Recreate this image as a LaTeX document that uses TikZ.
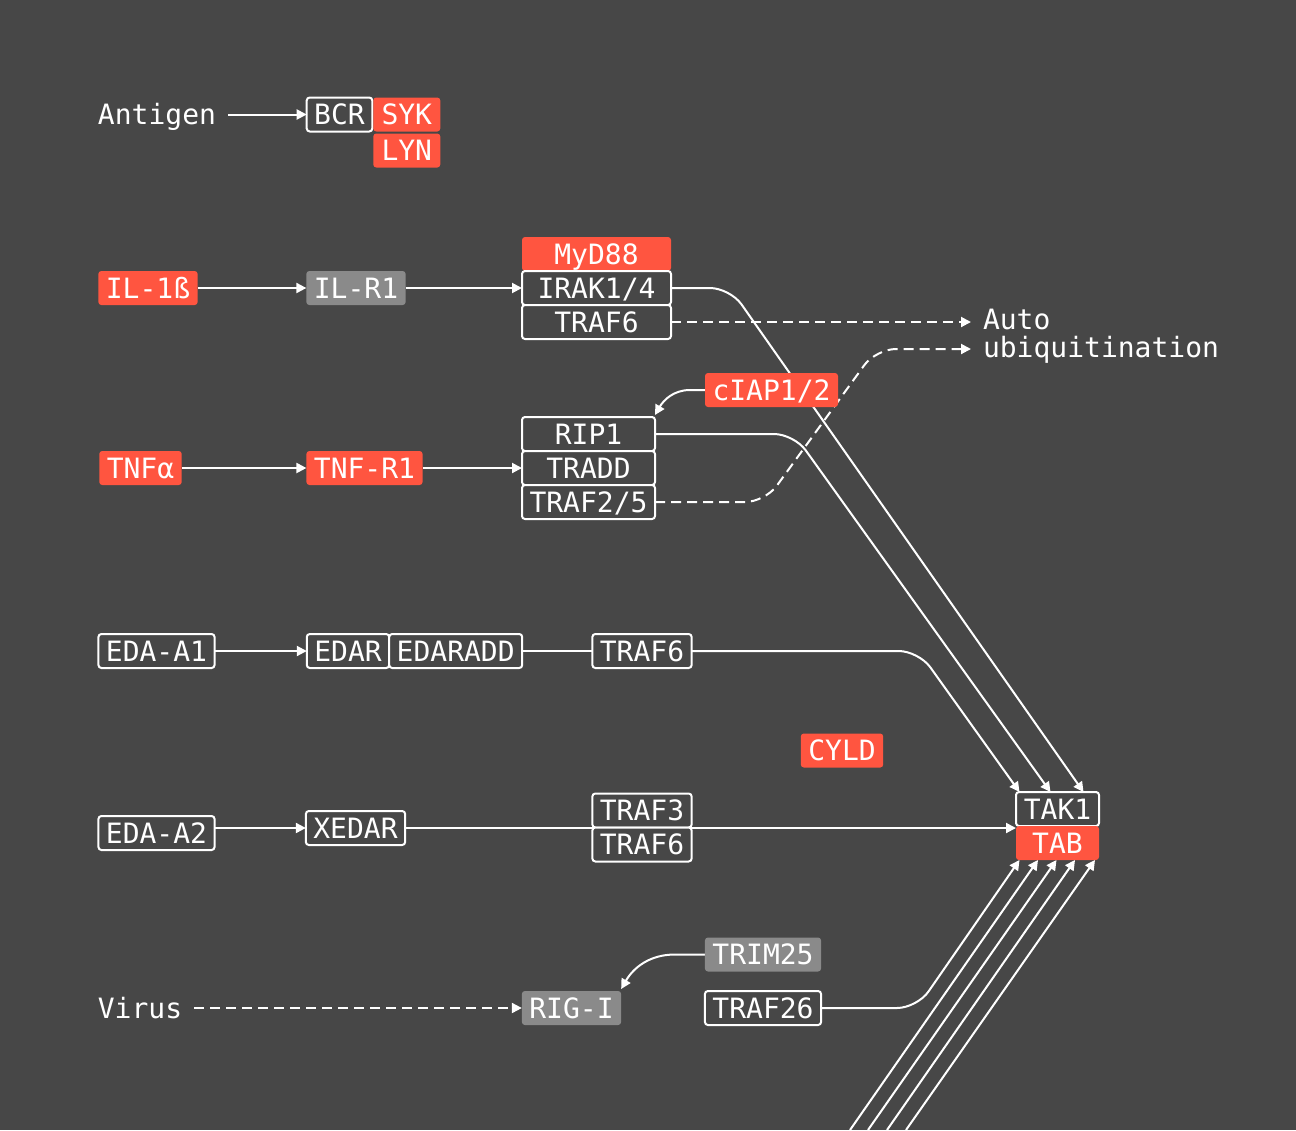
\documentclass[tikz,border=0pt]{standalone}
\usepackage{fontspec}
\setmonofont{DejaVu Sans Mono}
\usepackage{tikz}
\usetikzlibrary{%
	arrows.meta,%
	positioning,% wg. " of "
	calc
}
\definecolor{bgcol}{HTML}{474747}
\definecolor{redcol}{HTML}{FF5540}
\definecolor{greycol}{HTML}{8A8A8A}
\tikzstyle{note} = [text=white, inner xsep=12pt, inner ysep=0pt, outer sep=0pt, font=\ttfamily\fontsize{28}{28}\selectfont]
\tikzstyle{stim} = [note, text height=20pt, text depth=0pt]
\tikzstyle{prot} = [rectangle, rounded corners=3pt, outer sep=0pt, inner xsep=7.5pt, inner ysep=7pt, minimum height=34pt, text height=20pt, text depth=0pt, text=white, font=\ttfamily\fontsize{28}{28}\selectfont]
\tikzstyle{outlbox} = [prot, draw=white, line width=2pt, fill=bgcol]
\tikzstyle{redbox} = [prot, fill=redcol]
\tikzstyle{greybox} = [prot, fill=greycol]
\tikzstyle{conn} = [draw=white, line width=2pt, -{Triangle[length=10pt,width=10pt]}]
\tikzstyle{dconn} = [conn, dash pattern=on 10pt off 6pt]
\tikzstyle{plainconn} = [draw=white, line width=2pt]
\pgfdeclarelayer{bg}
\pgfdeclarelayer{background}
\pgfsetlayers{bg,background,main}
\begin{document}
\begin{tikzpicture}[x=1pt,y=1pt]

	\useasboundingbox (0,0) rectangle (1296,-1130);
	\begin{pgfonlayer}{bg}
	\fill[bgcol] (0,0) rectangle (1296,-1130);
	\end{pgfonlayer}

	% First we draw the stimuli
	\foreach \pos/\name/\txt in {{(157,-114.5)/antigen/Antigen}, {(140,-1008)/virus/Virus}}
	\node[stim] (\name) at \pos {\txt};
	\node[note, align=left, anchor=west] (ubq) at (971,-336) {Auto\\ubiquitination};

	% Red, grey and outlined proteins
	\foreach \pos/\name/\txt in {{(148,-288)/ilb/{IL-1ß}}, {(140.5,-468)/tnfa/{TNFα}}, {(364.5,-468)/tnfr/{TNF-R1}}, {(771.5,-390)/ciap/{cIAP1/2}}, {(842,-750.5)/cyld/{CYLD}}}
	\node[redbox] (\name) at \pos {\txt};

	\foreach \pos/\name/\txt in {{(356,-288)/ilr/{IL-R1}}, {(571.5,-1008)/rigi/{RIG-I}}, {(763,-954.5)/trim/{TRIM25}}}
	\node[greybox] (\name) at \pos {\txt};

	\foreach \pos/\name/\txt in {{(339.5,-114.5)/bcr/{BCR}}, {(156.5,-651)/edaa1/{EDA-A1}}, {(348,-651)/edar/{EDAR}}, {(642,-651)/traf6b/{TRAF6}}, {(156.5,-833)/edaa2/{EDA-A2}}, {(355.5,-828)/xedar/{XEDAR}}, {(763,-1008)/traf26/{TRAF26}}}
	\node[outlbox] (\name) at \pos {\txt};

	% Stacked complexes
	\node[redbox, minimum width=67pt, right=1pt of bcr] (syk) {SYK};
	\node[redbox, minimum width=67pt, below=2pt of syk] (lyn) {LYN};
	\node[redbox, minimum width=149pt] (myd) at (596.5,-254) {MyD88};
	\node[outlbox, minimum width=149pt, below=0pt of myd] (irak) {IRAK1/4};
	\node[outlbox, minimum width=149pt, below=0pt of irak] (traf6a) {TRAF6};
	\node[outlbox, minimum width=133pt] (rip) at (588.5,-434) {RIP1};
	\node[outlbox, minimum width=133pt, below=0pt of rip] (tradd) {TRADD};
	\node[outlbox, minimum width=133pt, below=0pt of tradd] (traf25) {TRAF2/5};
	\node[outlbox, right=0pt of edar] (edaradd) {EDARADD};
	\node[outlbox, minimum width=98pt] (traf3) at (642,-810.5) {TRAF3};
	\node[outlbox, minimum width=98pt, below=0pt of traf3] (traf6c) {TRAF6};
	\node[outlbox, minimum width=83pt] (tak) at (1057.5,-809) {TAK1};
	\node[redbox, minimum width=83pt, below=0pt of tak] (tab) {TAB};

	% Free ends at the bottom edge
	\foreach \x/\n in {850/1, 868/2, 887/3, 906/4}
	\coordinate (in\n) at (\x,-1130);

	\begin{pgfonlayer}{background}
	% Connect stimuli with receptors
	\foreach \source/ \dest in {antigen/bcr, ilb/ilr, ilr/irak, tnfa/tnfr, tnfr/tradd, edaa1/edar}
	\path[conn] (\source) -- (\dest);
	\path[conn] (edaa2.east |- xedar.west) -- (xedar.west);
	\path[plainconn] (edaradd) -- (traf6b);
	\path[conn] (xedar.east) -- (xedar.east -| tak.west);
	\path[dconn] (virus) -- (rigi);

	% Lines into TAK1 / TAB
	\path[conn, rounded corners=20pt] (irak.east) -- ++(59,0) -- ([xshift=26pt]tak.north);
	\path[conn, rounded corners=20pt] (rip.east) -- ++(139,0) -- ([xshift=-7pt]tak.north);
	\path[conn, rounded corners=20pt] (traf6b.east) -- ++(227,0) -- ([xshift=-38pt]tak.north);
	\path[conn, rounded corners=20pt] (traf26.east) -- ++(96,0) -- ([xshift=-38pt]tab.south);
	\foreach \n/\dx in {1/-19.5, 2/-1, 3/17.5, 4/37.5}
	\path[conn] (in\n) -- ([xshift=\dx pt]tab.south);

	% Auto ubiquitination
	\path[dconn] (traf6a.east) -- ([yshift=14pt]ubq.west);
	\path[dconn, rounded corners=20pt] (traf25.east) -- ++(110,0) -- ([xshift=-95pt,yshift=-13pt]ubq.west) -- ([yshift=-13pt]ubq.west);

	% Regulators
	\path[conn] (ciap.west) -- ++(-15,0) to[out=180,in=60] ([yshift=2pt]rip.north east);
	\path[conn] (trim.west) -- ++(-30,0) to[out=180,in=60] ([yshift=2pt]rigi.north east);
	\end{pgfonlayer}

\end{tikzpicture}
\end{document}
